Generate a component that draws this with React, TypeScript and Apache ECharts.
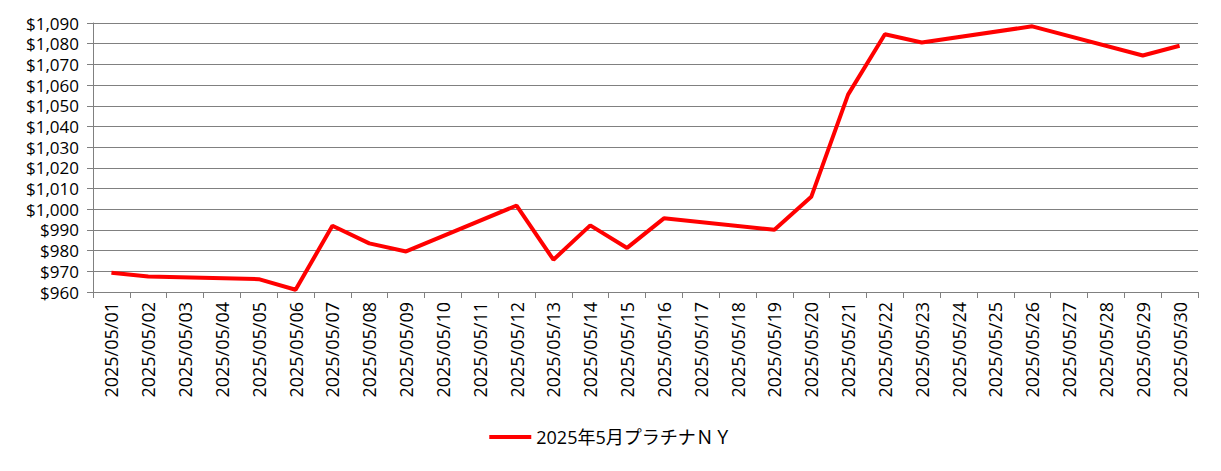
import React, { useEffect, useRef } from "react";
import * as echarts from "echarts";

const categories: string[] = [
  "2025/05/01", "2025/05/02", "2025/05/03", "2025/05/04", "2025/05/05",
  "2025/05/06", "2025/05/07", "2025/05/08", "2025/05/09", "2025/05/10",
  "2025/05/11", "2025/05/12", "2025/05/13", "2025/05/14", "2025/05/15",
  "2025/05/16", "2025/05/17", "2025/05/18", "2025/05/19", "2025/05/20",
  "2025/05/21", "2025/05/22", "2025/05/23", "2025/05/24", "2025/05/25",
  "2025/05/26", "2025/05/27", "2025/05/28", "2025/05/29", "2025/05/30",
];

const platinumNY: (number | null)[] = [
  969.3, 967.5, null, null, 966.2,
  961.1, 992, 983.5, 979.6, null,
  null, 1001.8, 975.6, 992.2, 981.3,
  995.6, null, null, 990.1, 1006,
  1055.4, 1084.6, 1080.6, null, null,
  1088.4, null, null, 1074.3, 1079,
];

const seriesName = "2025年5月プラチナＮＹ";
const yMin = 960;
const yMax = 1090;
const yInterval = 10;

const fontFamily = "'Open Sans', 'Noto Sans CJK JP', sans-serif";

export default function App() {
  const ref = useRef<HTMLDivElement>(null);
  useEffect(() => {
    if (!ref.current) return;
    const chart = echarts.init(ref.current, null, { renderer: "svg" });
    chart.setOption({
      animation: false,
      backgroundColor: "#ffffff",
      grid: { left: 85, right: 15, top: 15, bottom: 171, containLabel: false },
      legend: {
        bottom: 12,
        left: "center",
        icon: "rect",
        itemWidth: 42,
        itemHeight: 4,
        itemGap: 10,
        textStyle: { fontSize: 18, color: "#000", fontFamily },
        data: [seriesName],
      },
      xAxis: {
        type: "category",
        data: categories,
        boundaryGap: true,
        axisLine: { lineStyle: { color: "#808080", width: 1 } },
        axisTick: { show: true, alignWithLabel: false, length: 6, lineStyle: { color: "#808080" } },
        axisLabel: {
          interval: 0,
          rotate: 90,
          fontSize: 18,
          color: "#000",
          fontFamily,
          margin: 10,
        },
        splitLine: { show: false },
      },
      yAxis: {
        type: "value",
        min: yMin,
        max: yMax,
        interval: yInterval,
        axisLine: { show: true, lineStyle: { color: "#808080" } },
        axisTick: { show: true, length: 6, lineStyle: { color: "#808080" } },
        axisLabel: {
          fontSize: 17,
          lineHeight: 18,
          color: "#000",
          fontFamily,
          margin: 14,
          formatter: (v: number) => "$" + v.toLocaleString("en-US"),
        },
        splitLine: { show: true, lineStyle: { color: "#808080", width: 1 } },
      },
      series: [
        {
          name: seriesName,
          type: "line",
          data: platinumNY,
          connectNulls: true,
          symbol: "none",
          lineStyle: { color: "#ff0000", width: 4 },
          itemStyle: { color: "#ff0000" },
        },
      ],
    });
    return () => chart.dispose();
  }, []);
  return <div ref={ref} style={{ width: 1205, height: 455 }} />;
}
